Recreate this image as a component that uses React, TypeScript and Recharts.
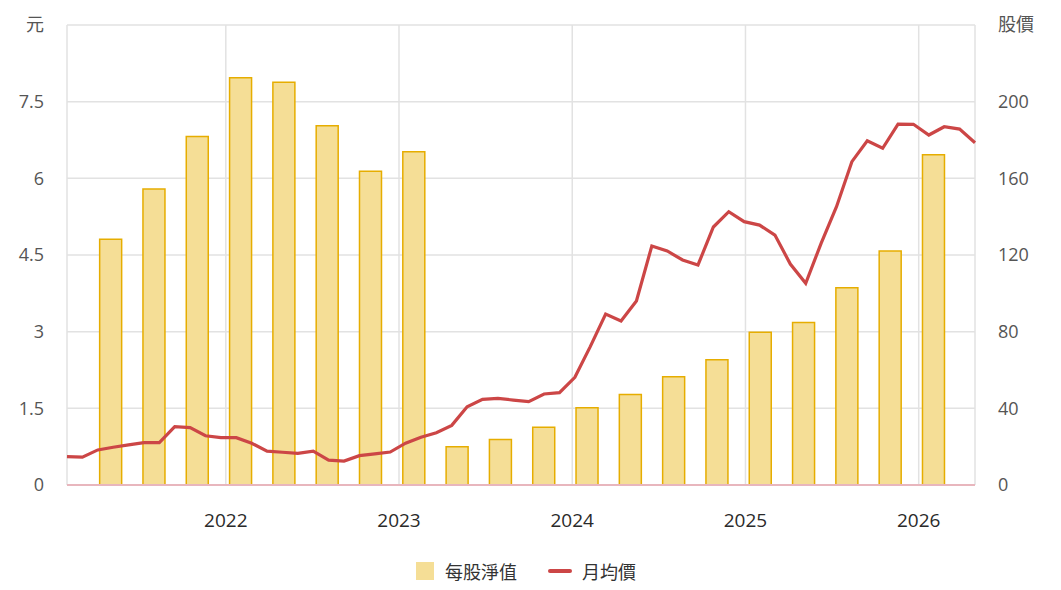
import { ComposedChart, Bar, Line, XAxis, YAxis, CartesianGrid, Legend } from 'recharts';

// quarterly book value per share, months counted from Feb 2021 (left edge = 0)
const NAV_MONTHS = [3, 6, 9, 12, 15, 18, 21, 24, 27, 30, 33, 36, 39, 42, 45, 48, 51, 54, 57, 60];
const NAV_VALUES = [4.81, 5.79, 6.82, 7.97, 7.88, 7.03, 6.14, 6.52, 0.75, 0.89, 1.13, 1.51, 1.77, 2.12, 2.45, 2.99, 3.18, 3.86, 4.58, 6.46];

// monthly average price, evenly spaced over the full width
const PRICE_VALUES = [
  14.8, 14.5, 18.3, 19.7, 20.9, 22.1, 22.1, 30.4, 29.9, 25.7,
  24.7, 24.7, 21.8, 17.7, 17.1, 16.5, 17.7, 13.0, 12.5, 15.3,
  16.2, 17.2, 21.8, 24.9, 27.3, 31.1, 40.8, 44.7, 45.2, 44.3,
  43.5, 47.5, 48.2, 56.2, 72.2, 89.2, 85.6, 96.0, 124.7, 122.1,
  117.4, 114.8, 134.6, 142.6, 137.4, 135.6, 130.4, 115.3, 105.2, 126.1,
  145.2, 168.7, 179.6, 175.7, 188.3, 188.2, 182.6, 186.9, 185.7, 178.6,
];

const YEAR_TICKS = [11, 23, 35, 47, 59];
const YEAR_LABELS = ['2022', '2023', '2024', '2025', '2026'];
const LEFT_TICKS = [0, 1.5, 3, 4.5, 6, 7.5, 9];
const RIGHT_TICKS = [0, 40, 80, 120, 160, 200, 240];

const navData = NAV_MONTHS.map((m, i) => ({ m, nav: NAV_VALUES[i] }));
const priceData = PRICE_VALUES.map((price, i) => ({ i, price }));

const FONT = "'Open Sans', 'Noto Sans CJK TC', sans-serif";
const BAR_FILL = '#f5de96';
const BAR_STROKE = '#e6ad00';
const LINE_COLOR = '#cc4646';

function LeftTick({ x, y, payload }: any) {
  const top = payload.value === 9;
  return (
    <text x={x} y={y} dy="0.35em" textAnchor="end" fontSize={18} fontFamily={FONT} fill="#555">
      {top ? '元' : payload.value}
    </text>
  );
}

function RightTick({ x, y, payload }: any) {
  const top = payload.value === 240;
  return (
    <text x={x} y={y} dy="0.35em" textAnchor="start" fontSize={18} fontFamily={FONT} fill="#555">
      {top ? '股價' : payload.value}
    </text>
  );
}

function LegendContent() {
  return (
    <div style={{ display: 'flex', justifyContent: 'center', alignItems: 'center', height: 30, fontFamily: FONT, fontSize: 18, color: '#333', paddingRight: 9 }}>
      <span style={{ width: 18, height: 18, background: BAR_FILL, display: 'inline-block' }} />
      <span style={{ marginLeft: 11 }}>每股淨值</span>
      <span style={{ width: 24, height: 4, borderRadius: 2, background: LINE_COLOR, display: 'inline-block', marginLeft: 31 }} />
      <span style={{ marginLeft: 10 }}>月均價</span>
    </div>
  );
}

export default function App() {
  return (
    <ComposedChart width={1045} height={574} data={navData} margin={{ top: 17, right: 0, bottom: 7, left: 0 }}>
      <CartesianGrid xAxisId="time" yAxisId="left" stroke="#e2e2e2" strokeWidth={1.5} />
      <XAxis
        xAxisId="time"
        dataKey="m"
        type="number"
        domain={[0, 62.9]}
        ticks={YEAR_TICKS}
        tickFormatter={(v: number) => YEAR_LABELS[YEAR_TICKS.indexOf(v)]}
        tick={{ fill: '#2a2a2a', fontSize: 19, fontFamily: FONT }}
        tickSize={0}
        tickMargin={29}
        height={60}
        axisLine={{ stroke: '#e8b6bd', strokeWidth: 2 }}
        allowDataOverflow
      />
      <XAxis xAxisId="line" dataKey="i" type="number" domain={[0, 59]} orientation="top" height={0} hide />
      <YAxis
        yAxisId="left"
        orientation="left"
        domain={[0, 9]}
        ticks={LEFT_TICKS}
        width={59}
        tick={<LeftTick />}
        tickSize={0}
        tickMargin={23}
        axisLine={false}
        tickLine={false}
      />
      <YAxis
        yAxisId="right"
        orientation="right"
        domain={[0, 240]}
        ticks={RIGHT_TICKS}
        width={78}
        tick={<RightTick />}
        tickSize={0}
        tickMargin={23}
        axisLine={false}
        tickLine={false}
      />
      <Bar
        xAxisId="time"
        yAxisId="left"
        dataKey="nav"
        name="每股淨值"
        barSize={22}
        fill={BAR_FILL}
        stroke={BAR_STROKE}
        strokeWidth={1.5}
        isAnimationActive={false}
      />
      <Line
        xAxisId="line"
        yAxisId="right"
        data={priceData}
        dataKey="price"
        name="月均價"
        type="linear"
        stroke={LINE_COLOR}
        strokeWidth={3.2}
        dot={false}
        isAnimationActive={false}
      />
      <Legend content={<LegendContent />} verticalAlign="bottom" wrapperStyle={{ top: 548, left: 0, width: 1045, height: 30 }} />
    </ComposedChart>
  );
}
